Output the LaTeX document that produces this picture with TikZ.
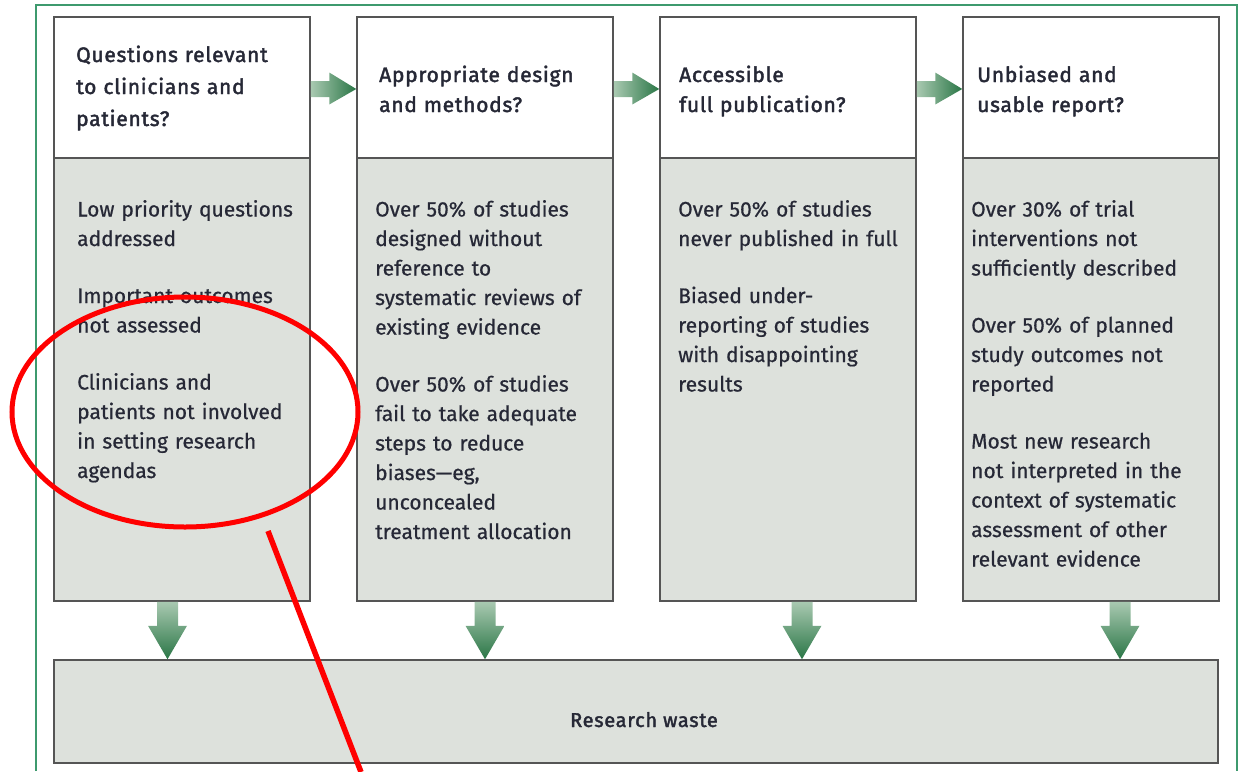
\documentclass[tikz,border=0pt]{standalone}
\usepackage{fontspec}
\setmainfont{Fira Sans}[FakeBold=0.6]
\newfontfamily\headfont{Fira Sans}[FakeBold=2, LetterSpace=3.5]
\usetikzlibrary{calc}

\definecolor{boxfill}{HTML}{DDE1DC}
\definecolor{boxline}{HTML}{555555}
\definecolor{ink}{HTML}{262836}
\definecolor{framegreen}{HTML}{3E9A6E}
\definecolor{gdark}{HTML}{2A7646}
\definecolor{glight}{HTML}{A9C9B1}

\tikzset{
  headbox/.style={draw=boxline, line width=1.5pt, fill=white, minimum width=256pt, minimum height=141pt, inner sep=0pt},
  bodybox/.style={draw=boxline, line width=1.5pt, fill=boxfill, minimum width=256pt, minimum height=443pt, inner sep=0pt},
  headtext/.style={anchor=base west, inner sep=0pt, text width=235pt, align=left, text=ink,
    font=\headfont\fontsize{21}{32}\selectfont},
  headtextb/.style={headtext, font=\headfont\fontsize{21}{30}\selectfont},
  bodytext/.style={anchor=base west, inner sep=0pt, text width=240pt, align=left, text=ink,
    font=\fontsize{21}{29.5}\selectfont},
  hshade/.style={left color=glight, right color=gdark, draw=none},
  vshade/.style={top color=glight, bottom color=gdark, draw=none},
}
\newcommand{\pgap}{\\[27.5pt]}

\begin{document}
\begin{tikzpicture}[x=1pt, y=-1pt]
\useasboundingbox (0,0) rectangle (1238,771);

% outer frame
\draw[framegreen, line width=2pt] (36,771) -- (36,5) -- (1237,5) -- (1237,771);

% the four stages: question box on top, findings below
\foreach \i/\cx in {1/182, 2/485, 3/788, 4/1091} {
  \node[bodybox] (b\i) at (\cx,379.5) {};
  \node[headbox] (h\i) at (\cx,87.5) {};
}

% research waste box
\node[bodybox, minimum width=1164pt, minimum height=103pt] (waste) at (636,711.5) {};
\node[anchor=base, inner sep=0pt, text=ink, font=\headfont\fontsize{20}{25}\selectfont] (wastetext) at (644,727) {Research waste};

% stage questions
\node[headtext] (q1) at (76,62) {Questions relevant\\to clinicians and\\patients?};
\node[headtextb] (q2) at (379,82) {Appropriate design\\and methods?};
\node[headtextb] (q3) at (679,82) {Accessible\\full publication?};
\node[headtextb] (q4) at (977,82) {Unbiased and\\usable report?};

% findings
\node[bodytext] (f1) at (77,216.5) {Low priority questions\\addressed\pgap
  Important outcomes\\not assessed\pgap
  Clinicians and\\patients not involved\\in setting research\\agendas};
\node[bodytext] (f2) at (375,216.5) {Over 50\% of studies\\designed without\\reference to\\systematic reviews of\\existing evidence\pgap
  Over 50\% of studies\\fail to take adequate\\steps to reduce\\biases---eg,\\unconcealed\\treatment allocation};
\node[bodytext] (f3) at (678,216.5) {Over 50\% of studies\\never published in full\pgap
  Biased under-\\reporting of studies\\with disappointing\\results};
\node[bodytext] (f4) at (971,216.5) {Over 30\% of trial\\interventions not\\sufficiently described\pgap
  Over 50\% of planned\\study outcomes not\\reported\pgap
  Most new research\\not interpreted in the\\context of systematic\\assessment of other\\relevant evidence};

% block arrows between the question boxes
\foreach \a/\b in {h1/h2, h2/h3, h3/h4} {
  \shade[hshade] ($(\a.east)+(0,-6.5)$) -- ($(\b.west)+(-27,-6.5)$) -- ($(\b.west)+(-27,-15)$)
    -- ($(\b.west)+(0,1.5)$) -- ($(\b.west)+(-27,17)$) -- ($(\b.west)+(-27,9.5)$)
    -- ($(\a.east)+(0,9.5)$) -- cycle;
}

% block arrows from each stage down to research waste
\foreach \i/\dx in {1/-14.5, 2/0, 3/14, 4/29} {
  \coordinate (top\i) at ($(b\i.south)+(\dx,0)$);
  \coordinate (tip\i) at (top\i |- waste.north);
  \shade[vshade] ($(top\i)+(-10.5,0)$) -- ($(top\i)+(-10.5,24)$) -- ($(top\i)+(-19.5,24)$)
    -- (tip\i) -- ($(top\i)+(19.5,24)$) -- ($(top\i)+(10.5,24)$) -- ($(top\i)+(10.5,0)$) -- cycle;
}

% red annotation
\draw[red, line width=5pt] (185,412) ellipse [x radius=173, y radius=115];
\coordinate (markstart) at (268,531);
\coordinate (markend) at (361,772);
\draw[red, line width=5.5pt] (markstart) -- (markend);
\end{tikzpicture}
\end{document}
